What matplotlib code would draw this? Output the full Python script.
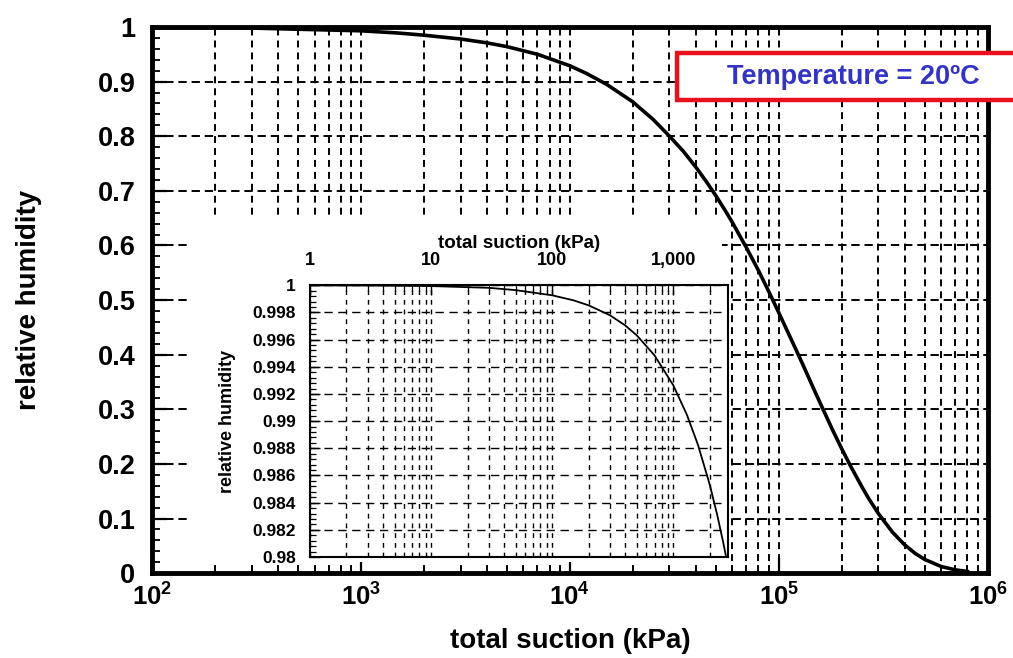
import matplotlib
matplotlib.use("Agg")
import matplotlib.pyplot as plt
from matplotlib.patches import Rectangle
from matplotlib.ticker import LogLocator, MultipleLocator, FixedLocator, NullFormatter

plt.rcParams['font.family'] = ['Liberation Sans', 'DejaVu Sans']
plt.rcParams['font.weight'] = 'bold'
plt.rcParams['mathtext.fontset'] = 'custom'
plt.rcParams['mathtext.rm'] = 'Liberation Sans:bold'
plt.rcParams['mathtext.bf'] = 'Liberation Sans:bold'
plt.rcParams['lines.scale_dashes'] = False

# main curve (total suction in kPa vs relative humidity)
suction_kpa = [100, 300, 1000, 1500, 2000, 3000, 4000, 5000, 7000, 10000,
               12000, 15000, 20000, 25000, 30000, 35000, 40000, 45000, 50000,
               55000, 60000, 65000, 70000, 80000, 90000, 100000, 110000,
               120000, 130000, 150000, 180000, 200000, 220000, 250000,
               270000, 300000, 350000, 400000, 450000, 500000, 600000,
               700000, 800000]
rel_humidity = [0.999, 0.998, 0.993, 0.989, 0.985, 0.978, 0.971, 0.964, 0.950,
                0.929, 0.915, 0.895, 0.863, 0.831, 0.800, 0.772, 0.744, 0.717,
                0.691, 0.666, 0.642, 0.618, 0.596, 0.554, 0.514, 0.477, 0.443,
                0.412, 0.383, 0.330, 0.264, 0.228, 0.197, 0.158, 0.136, 0.109,
                0.075, 0.052, 0.036, 0.025, 0.012, 0.006, 0.003]

# inset curve (zoom on the high humidity range)
inset_suction = [1, 3, 10, 30, 50, 100, 150, 200, 300, 400, 500, 700, 1000,
                 1300, 1600, 2000, 2300, 2600, 2730]
inset_rh = [0.99999, 0.99998, 0.99994, 0.99981, 0.99964, 0.99926, 0.99889,
            0.99852, 0.99779, 0.99705, 0.99631, 0.99484, 0.99264, 0.99044,
            0.98825, 0.98533, 0.98314, 0.98097, 0.98]

main_xticks = [1e2, 1e3, 1e4, 1e5, 1e6]
main_xticklabels = [r'$10^{2}$', r'$10^{3}$', r'$10^{4}$', r'$10^{5}$', r'$10^{6}$']
main_yticks = [0, 0.1, 0.2, 0.3, 0.4, 0.5, 0.6, 0.7, 0.8, 0.9, 1.0]
main_yticklabels = ['0', '0.1', '0.2', '0.3', '0.4', '0.5', '0.6', '0.7', '0.8', '0.9', '1']

inset_xticks = [1, 10, 100, 1000]
inset_xticklabels = ['1', '10', '100', '1,000']
inset_yticks = [0.98, 0.982, 0.984, 0.986, 0.988, 0.99, 0.992, 0.994, 0.996, 0.998, 1.0]
inset_yticklabels = ['0.98', '0.982', '0.984', '0.986', '0.988', '0.99',
                     '0.992', '0.994', '0.996', '0.998', '1']

fig = plt.figure(figsize=(10.13, 6.58), dpi=100)
ax = fig.add_axes([0.150, 0.129, 0.825, 0.830])

ax.plot(suction_kpa, rel_humidity, color='black', lw=2.6, zorder=4)
ax.set_xscale('log')
ax.set_xlim(1e2, 1e6)
ax.set_ylim(0, 1)

ax.xaxis.set_major_locator(FixedLocator(main_xticks))
ax.set_xticklabels(main_xticklabels, fontsize=18.5)
ax.xaxis.set_minor_locator(LogLocator(base=10, subs=range(2, 10)))
ax.xaxis.set_minor_formatter(NullFormatter())
ax.set_yticks(main_yticks)
ax.set_yticklabels(main_yticklabels, fontsize=19.5)
ax.yaxis.set_minor_locator(MultipleLocator(0.02))

ax.tick_params(which='major', direction='in', length=11, width=1.6)
ax.tick_params(which='minor', direction='in', length=6, width=1.3)
ax.tick_params(axis='x', which='major', pad=6)
ax.tick_params(axis='y', which='major', pad=12)

ax.grid(True, axis='x', which='both', color='black', lw=1.4, ls=(0, (5, 3.6)))
ax.grid(True, axis='y', which='major', color='black', lw=1.4, ls=(0, (6, 3.5)))
for s in ax.spines.values():
    s.set_linewidth(3.5)

ax.set_xlabel('total suction (kPa)', fontsize=20, fontweight='bold')
ax.xaxis.set_label_coords(0.5, -0.1)
ax.set_ylabel('relative humidity', fontsize=20, fontweight='bold')
ax.yaxis.set_label_coords(-0.132, 0.5)

# white area behind the inset hides the main grid
ax.add_patch(Rectangle((0.1876, 1 - 562 / 658), 0.525, (562 - 215) / 658,
                       transform=fig.transFigure, facecolor='white',
                       edgecolor='none', zorder=2, clip_on=False))

# inset
axin = fig.add_axes([0.306, 0.1535, 0.413, 0.413])
axin.plot(inset_suction, inset_rh, color='black', lw=1.3, zorder=4)
axin.set_xscale('log')
axin.set_xlim(1, 2850)
axin.set_ylim(0.98, 1.0)
axin.xaxis.tick_top()
axin.xaxis.set_label_position('top')
axin.xaxis.set_major_locator(FixedLocator(inset_xticks))
axin.set_xticklabels(inset_xticklabels, fontsize=13)
axin.xaxis.set_minor_locator(LogLocator(base=10, subs=range(2, 10)))
axin.xaxis.set_minor_formatter(NullFormatter())
axin.set_yticks(inset_yticks)
axin.set_yticklabels(inset_yticklabels, fontsize=12.5)
axin.yaxis.set_minor_locator(MultipleLocator(0.0004))
axin.tick_params(which='major', direction='in', length=7, width=1.0)
axin.tick_params(which='minor', direction='in', length=4, width=0.9)
axin.tick_params(axis='x', which='major', pad=12)
axin.tick_params(axis='y', which='major', pad=10)
axin.grid(True, axis='x', which='both', color='black', lw=1.0, ls=(0, (3.5, 3.5)))
axin.grid(True, axis='y', which='major', color='black', lw=1.0, ls=(0, (6, 4)))
for s in axin.spines.values():
    s.set_linewidth(1.5)
axin.set_xlabel('total suction (kPa)', fontsize=13.5, fontweight='bold')
axin.xaxis.set_label_coords(0.5, 1.136)
axin.set_ylabel('relative humidity', fontsize=13, fontweight='bold')
axin.yaxis.set_label_coords(-0.177, 0.5)

# temperature box
fig.patches.append(Rectangle((677 / 1013, 1 - 100 / 658), 0.36, 47 / 658,
                             transform=fig.transFigure, facecolor='white',
                             edgecolor='#e8101a', lw=3.2, zorder=5))
fig.text(853 / 1013, 1 - 77 / 658, 'Temperature = 20ºC', color='#3333c4',
         fontsize=19.5, fontweight='bold', ha='center', va='center', zorder=6)

fig.savefig('out.png', dpi=100)
